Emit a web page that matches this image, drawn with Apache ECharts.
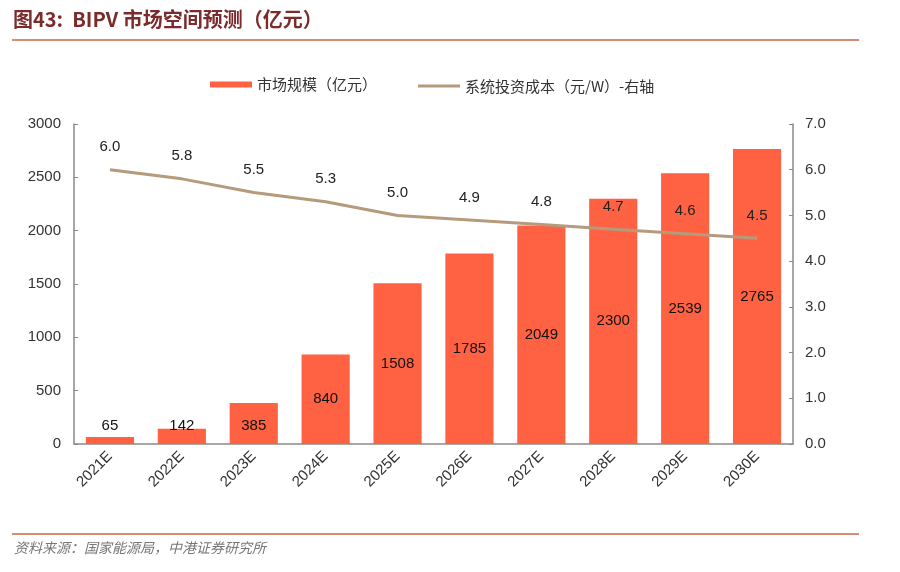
<!DOCTYPE html>
<html>
<head>
<meta charset="utf-8">
<script src="https://cdn.jsdelivr.net/npm/echarts@6/dist/echarts.min.js"></script>
<style>
html,body{margin:0;padding:0;background:#fff;}
#c{width:900px;height:572px;}
</style>
</head>
<body>
<div id="c"></div>
<script>
const categories = ['2021E','2022E','2023E','2024E','2025E','2026E','2027E','2028E','2029E','2030E'];
const marketSize = [65, 142, 385, 840, 1508, 1785, 2049, 2300, 2539, 2765];
const systemCost = [6.0, 5.8, 5.5, 5.3, 5.0, 4.9, 4.8, 4.7, 4.6, 4.5];
const leftTicks = [0, 500, 1000, 1500, 2000, 2500, 3000];
const rightTicks = [0, 1, 2, 3, 4, 5, 6, 7];

const barName = '市场规模（亿元）';
const lineName = '系统投资成本（元/W）-右轴';
const barColor = '#FF6242';
const lineColor = '#B59A7B';
const axisColor = '#8a8a8a';
const txt = '#333333';
const numFont = 'Liberation Sans, Arial, sans-serif';
const cjkFont = 'Noto Sans CJK SC, sans-serif';

const chart = echarts.init(document.getElementById('c'));

const barData = marketSize.map(v => ({
  value: v,
  label: v < 500 ? { position: 'insideBottom', distance: 11 } : { position: 'inside' }
}));

chart.setOption({
  backgroundColor: '#fff',
  animation: false,
  graphic: [
    { type: 'text', left: 13, top: 9, style: { text: '图43:  BIPV 市场空间预测（亿元）', fill: '#7B2B2B', font: 'bold 20px ' + cjkFont } },
    { type: 'rect', shape: { x: 12, y: 39, width: 847, height: 2 }, style: { fill: '#DC8A78' } },
    { type: 'rect', shape: { x: 12, y: 533, width: 847, height: 2 }, style: { fill: '#DC8A78' } },
    { type: 'text', left: 14, top: 541, style: { text: '资料来源：国家能源局，中港证券研究所', fill: '#777', font: 'italic 14px ' + cjkFont } }
  ],
  legend: [
    {
      left: 205, top: 72, itemWidth: 42, itemHeight: 6, itemGap: 8,
      data: [{ name: barName, icon: 'rect' }],
      textStyle: { color: txt, fontSize: 15, fontFamily: cjkFont }
    },
    {
      left: 413, top: 73.5, itemWidth: 42, itemHeight: 3, itemGap: 8,
      data: [{ name: lineName, icon: 'rect' }],
      textStyle: { color: txt, fontSize: 15, fontFamily: cjkFont }
    }
  ],
  grid: { left: 74, right: 107, top: 124, bottom: 128, containLabel: false },
  xAxis: {
    type: 'category',
    data: categories,
    boundaryGap: true,
    axisLine: { lineStyle: { color: axisColor, width: 1.5 } },
    axisTick: { inside: true, length: 4, lineStyle: { color: axisColor } },
    axisLabel: { rotate: 45, color: txt, fontSize: 15, fontFamily: numFont, margin: 10 }
  },
  yAxis: [
    {
      type: 'value', min: 0, max: 3000, interval: 500,
      axisLine: { show: true, lineStyle: { color: axisColor, width: 1.5 } },
      axisTick: { show: true, inside: true, length: 4, lineStyle: { color: axisColor } },
      splitLine: { show: false },
      axisLabel: { color: txt, fontSize: 15, fontFamily: numFont, margin: 13,
        formatter: v => leftTicks.includes(v) ? String(v) : '' }
    },
    {
      type: 'value', min: 0, max: 7, interval: 1, position: 'right',
      axisLine: { show: true, lineStyle: { color: axisColor, width: 1.5 } },
      axisTick: { show: true, inside: true, length: 4, lineStyle: { color: axisColor } },
      splitLine: { show: false },
      axisLabel: { color: txt, fontSize: 15, fontFamily: numFont, margin: 12,
        formatter: v => rightTicks.includes(v) ? v.toFixed(1) : '' }
    }
  ],
  series: [
    {
      name: barName, type: 'bar', yAxisIndex: 0,
      data: barData,
      barCategoryGap: '33%',
      itemStyle: { color: barColor },
      label: { show: true, color: '#111', fontSize: 15, fontFamily: numFont }
    },
    {
      name: lineName, type: 'line', yAxisIndex: 1,
      data: systemCost,
      symbol: 'circle', symbolSize: 0.1, showSymbol: true,
      lineStyle: { color: lineColor, width: 3 },
      itemStyle: { color: lineColor },
      labelLayout: { hideOverlap: false },
      label: { show: true, position: 'top', distance: 15, color: '#222', fontSize: 15, fontFamily: numFont,
        formatter: p => p.value.toFixed(1) },
      z: 3
    }
  ]
});
</script>
</body>
</html>
